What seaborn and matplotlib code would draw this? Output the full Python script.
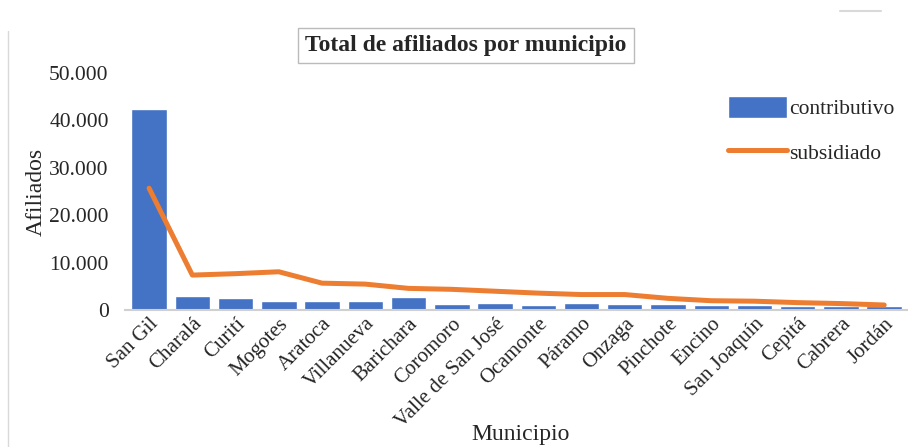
import matplotlib
matplotlib.use("Agg")
import matplotlib.pyplot as plt
import matplotlib.ticker as mticker
import seaborn as sns
import numpy as np

municipios = ["San Gil", "Charalá", "Curití", "Mogotes", "Aratoca", "Villanueva",
              "Barichara", "Coromoro", "Valle de San José", "Ocamonte", "Páramo",
              "Onzaga", "Pinchote", "Encino", "San Joaquín", "Cepitá", "Cabrera", "Jordán"]
contributivo = [42400, 2900, 2500, 2000, 1900, 1900, 2700, 1300, 1600, 1050,
                1550, 1250, 1400, 1050, 1100, 850, 800, 800]
subsidiado = [25700, 7400, 7700, 8100, 5700, 5500, 4600, 4400, 4000, 3600,
              3300, 3300, 2500, 2000, 1900, 1600, 1400, 1100]

sns.set_theme(style="white")
plt.rcParams['font.family'] = ['Liberation Serif', 'DejaVu Serif']

fig = plt.figure(figsize=(9.08, 4.47), dpi=100)
ax = fig.add_axes([0.138, 0.306, 0.862, 0.531])

sns.barplot(x=municipios, y=contributivo, color='#4472C4', width=0.82,
            saturation=1, ax=ax, label='contributivo')
sns.lineplot(x=np.arange(len(municipios)), y=subsidiado, color='#ED7D31',
             linewidth=3.6, ax=ax, label='subsidiado')

ax.set_ylim(0, 50000)
ax.set_xlim(-0.55, len(municipios) - 0.45)
ax.yaxis.set_major_locator(mticker.MultipleLocator(10000))
ax.yaxis.set_major_formatter(mticker.FuncFormatter(lambda v, p: f"{int(v):,}".replace(",", ".")))
ax.tick_params(axis='y', labelsize=15.5, length=0, pad=12)
ax.tick_params(axis='x', labelsize=15, length=0, pad=3)
plt.setp(ax.get_xticklabels(), rotation=45, ha='right', rotation_mode='anchor')

for s in ['top', 'right', 'left']:
    ax.spines[s].set_visible(False)
ax.spines['bottom'].set_color('#D0D0D0')
ax.spines['bottom'].set_linewidth(1.5)

ax.set_ylabel('Afiliados', fontsize=17)
ax.yaxis.set_label_coords(-0.1, 0.5)
ax.set_xlabel('Municipio', fontsize=17)
ax.xaxis.set_label_coords(0.505, -0.48)

fig.text(0.513, 0.898, 'Total de afiliados por municipio', ha='center', va='center',
         fontsize=17, fontweight='bold',
         bbox=dict(boxstyle='square,pad=0.3', facecolor='white', edgecolor='#BBBBBB', linewidth=1))

handles, labels = ax.get_legend_handles_labels()
order = [labels.index('contributivo'), labels.index('subsidiado')]
ax.legend([handles[i] for i in order], [labels[i] for i in order],
          loc='upper left', bbox_to_anchor=(0.745, 0.985), frameon=False,
          fontsize=15.5, handlelength=2.75, handleheight=1.2,
          handletextpad=0.1, labelspacing=1.0)

fig.add_artist(plt.Line2D([0.009, 0.009], [0, 0.93], color='#D9D9D9', linewidth=1,
                          transform=fig.transFigure))
fig.add_artist(plt.Line2D([0.925, 0.97], [0.976, 0.976], color='#D9D9D9', linewidth=1.5,
                          transform=fig.transFigure))

fig.savefig('out.png', dpi=100)
